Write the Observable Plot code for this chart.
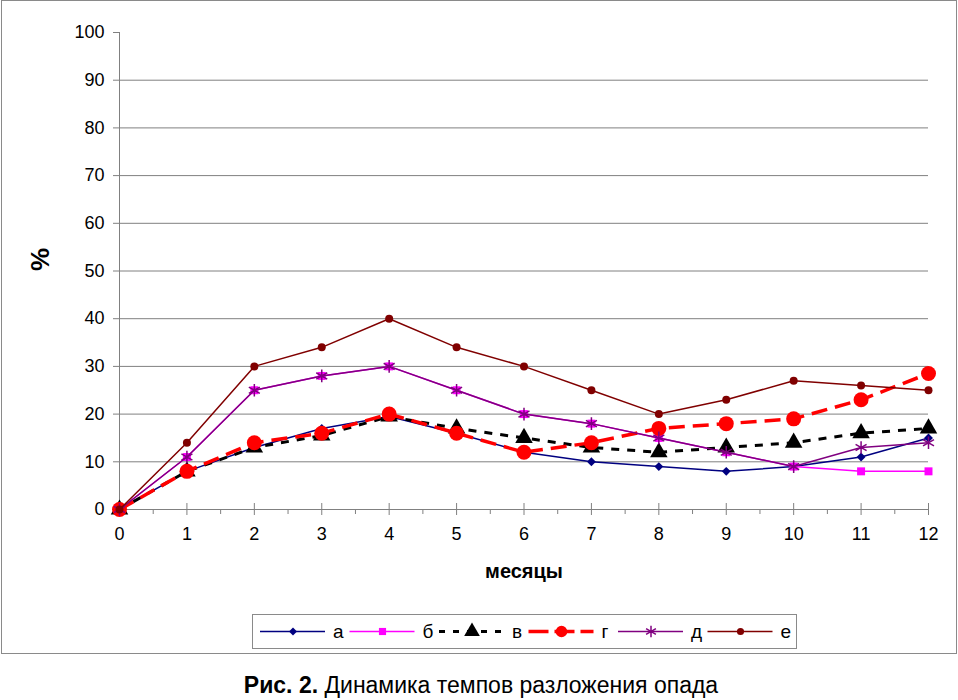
<!DOCTYPE html>
<html><head><meta charset="utf-8">
<script src="https://cdn.jsdelivr.net/npm/d3@7"></script>
<script src="https://cdn.jsdelivr.net/npm/@observablehq/plot@0.6"></script>
<style>
body{margin:0;background:#fff;}
#wrap{position:relative;width:958px;height:700px;font-family:"Liberation Sans",Arial,sans-serif;overflow:hidden;}
#chart{position:absolute;left:0;top:0;}
#frame{position:absolute;left:1px;top:0px;width:954px;height:652px;border:1.5px solid #8a8a8a;pointer-events:none;}
#legend{position:absolute;left:252px;top:614px;width:543px;height:33px;border:1px solid #8a8a8a;background:#fff;}
#caption{position:absolute;left:0;top:672px;width:962px;text-align:center;font-size:23px;color:#000;white-space:nowrap;}
</style></head><body>
<div id="wrap"><div id="chart"></div><div id="frame"></div><div id="legend"></div>
<div id="caption"><b>Рис. 2.</b> Динамика темпов разложения опада</div></div>
<script>
const months = [0,1,2,3,4,5,6,7,8,9,10,11,12];
const seriesNames = ["а","б","в","г","д","е"];
const valuesA = [0, 8, 13, 17, 19.5, 16, 12, 10, 9, 8, 9, 11, 15];
const valuesB = [0, 11, 25, 28, 30, 25, 20, 18, 15, 12, 9, 8, 8];
const valuesV = [0, 8, 13, 15.5, 19.5, 17, 15, 13, 12, 13, 14, 16, 17];
const valuesG = [0, 8, 14, 16, 20, 16, 12, 14, 17, 18, 19, 23, 28.5];
const valuesD = [0, 11, 25, 28, 30, 25, 20, 18, 15, 12, 9, 13, 14];
const valuesE = [0, 14, 30, 34, 40, 34, 30, 25, 20, 23, 27, 26, 25];
const yTicks = [0,10,20,30,40,50,60,70,80,90,100];
const gridTicks = [10,20,30,40,50,60,70,80,90];
const minorTicks = [0.5,1.5,2.5,3.5,4.5,5.5,6.5,7.5,8.5,9.5,10.5,11.5];

const allValues = [valuesA, valuesB, valuesV, valuesG, valuesD, valuesE];
const styles = [
  {stroke:"#000080", width:1.5, dash:null, symbol:"diamond2", d3sym:d3.symbolDiamond2, r:4, fill:"#000080", mstroke:"none"},
  {stroke:"#ff00ff", width:1.5, dash:null, symbol:"square", d3sym:d3.symbolSquare, r:4.5, fill:"#ff00ff", mstroke:"none"},
  {stroke:"#000000", width:3, dash:"8,8", symbol:"triangle", d3sym:d3.symbolTriangle, r:6.5, fill:"#000000", mstroke:"none"},
  {stroke:"#ff0000", width:3.5, dash:"16,8", symbol:"circle", d3sym:d3.symbolCircle, r:7.5, fill:"#ff0000", mstroke:"none"},
  {stroke:"#800080", width:1.5, dash:null, symbol:"asterisk", d3sym:d3.symbolAsterisk, r:6, fill:"none", mstroke:"#800080"},
  {stroke:"#800000", width:1.5, dash:null, symbol:"circle", d3sym:d3.symbolCircle, r:4, fill:"#800000", mstroke:"none"}
];

const seriesRows = seriesNames.map((name, si) =>
  months.map((m, i) => ({series: name, month: m, value: allValues[si][i]})));

const marks = [
  Plot.ruleY(gridTicks, {stroke:"#808080", strokeWidth:1}),
  Plot.ruleY([0], {stroke:"#808080", strokeWidth:1}),
  Plot.ruleX([0], {stroke:"#808080", strokeWidth:1}),
  Plot.axisY({ticks: yTicks, tickSize: 6, tickPadding: 9, fontSize: 18, label: null, stroke:"#808080"}),
  Plot.axisX({ticks: months, tickSize: 12, dy: -6, tickFormat: () => "", label: null, stroke:"#808080"}),
  Plot.axisX({ticks: minorTicks, tickSize: 5, tickFormat: () => "", label: null, stroke:"#808080"}),
  Plot.axisX({ticks: months, tickSize: 0, tickPadding: 18, fontSize: 18, label: null}),
  Plot.text(["%"], {text: d => d, frameAnchor: "left", dx: -79, rotate: -90, fontWeight: "bold", fontSize: 26}),
  Plot.text(["месяцы"], {text: d => d, frameAnchor: "bottom", dy: 68, fontWeight: "bold", fontSize: 20})
];
seriesRows.forEach((rows, si) => {
  const s = styles[si];
  marks.push(Plot.line(rows, {x:"month", y:"value", stroke:s.stroke, strokeWidth:s.width, strokeDasharray:s.dash || undefined, strokeLinecap:"butt"}));
  marks.push(Plot.dot(rows, {x:"month", y:"value", symbol:s.symbol, r:s.r, fill:s.fill, stroke:s.mstroke, strokeWidth:1.5}));
});

const chart = Plot.plot({
  width: 958, height: 660,
  marginLeft: 119, marginRight: 30, marginTop: 32, marginBottom: 151,
  x: {domain: [0, 12]},
  y: {domain: [0, 100]},
  style: {fontFamily: "'Liberation Sans', Arial, sans-serif", fontSize: "18px", background: "transparent", color: "#000", overflow: "visible"},
  marks
});
document.getElementById("chart").appendChild(chart);

// legend
const lg = d3.select("#legend").append("svg").attr("width", 543).attr("height", 33)
  .style("font-family", "'Liberation Sans', Arial, sans-serif");
seriesNames.forEach((name, i) => {
  const s = styles[i];
  const x0 = 7 + i * 89.5;
  const g = lg.append("g").attr("transform", `translate(${x0},16.5)`);
  g.append("line").attr("x1", 0).attr("x2", 65).attr("y1", 0).attr("y2", 0)
    .attr("stroke", s.stroke).attr("stroke-width", s.width)
    .attr("stroke-dasharray", s.dash ? (i === 2 ? "6,8" : "20,6") : null);
  g.append("path").attr("d", d3.symbol(s.d3sym, Math.PI * s.r * s.r * (i === 3 ? 0.6 : 0.8))())
    .attr("transform", "translate(33,0)")
    .attr("fill", s.fill).attr("stroke", s.mstroke).attr("stroke-width", 1.5);
  g.append("text").attr("x", 73).attr("y", 0).attr("dy", "0.35em").attr("font-size", 19).text(name);
});
</script>
</body></html>
